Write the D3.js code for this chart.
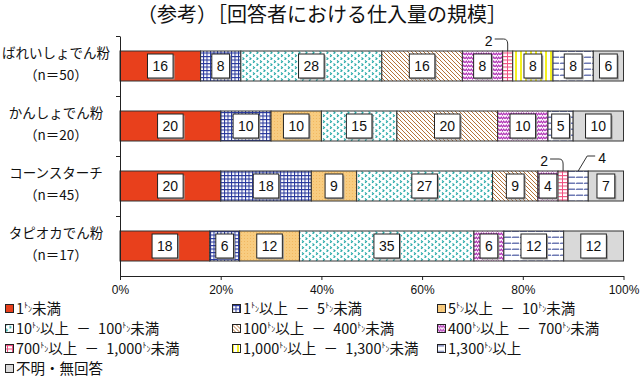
<!DOCTYPE html>
<html lang="ja">
<head>
<meta charset="UTF-8">
<script src="https://d3js.org/d3.v7.min.js"></script>
<style>
  body { margin: 0; background: #fff; }
  svg { display: block; font-family: "Noto Sans CJK JP", sans-serif; }
</style>
</head>
<body>
<div id="chart"></div>
<script>
// Data
const title = "（参考）［回答者における仕入量の規模］";
const rowLabels = ["ばれいしょでん粉", "かんしょでん粉", "コーンスターチ", "タピオカでん粉"];
const rowN = ["（n＝50）", "（n＝20）", "（n＝45）", "（n＝17）"];
const categories = [
  "1ﾄﾝ未満", "1ﾄﾝ以上\u2002－\u20025ﾄﾝ未満", "5ﾄﾝ以上\u2002－\u200210ﾄﾝ未満",
  "10ﾄﾝ以上\u2002－\u2002100ﾄﾝ未満", "100ﾄﾝ以上\u2002－\u2002400ﾄﾝ未満", "400ﾄﾝ以上\u2002－\u2002700ﾄﾝ未満",
  "700ﾄﾝ以上\u2002－\u20021,000ﾄﾝ未満", "1,000ﾄﾝ以上\u2002－\u20021,300ﾄﾝ未満", "1,300ﾄﾝ以上",
  "不明・無回答"
];
const lt1 = [16, 20, 20, 18];
const t1to5 = [8, 10, 18, 6];
const t5to10 = [0, 10, 9, 12];
const t10to100 = [28, 15, 27, 35];
const t100to400 = [16, 20, 9, 0];
const t400to700 = [8, 10, 4, 6];
const t700to1000 = [2, 0, 2, 0];
const t1000to1300 = [8, 0, 0, 0];
const ge1300 = [8, 5, 4, 12];
const unknown = [6, 10, 7, 12];
const xTicks = [0, 0.2, 0.4, 0.6, 0.8, 1];
// small segments labelled outside the bar: [row, category, side]
const callouts = [[0, 6, -1], [2, 6, -1], [2, 8, 1]];

const series = [lt1, t1to5, t5to10, t10to100, t100to400, t400to700, t700to1000, t1000to1300, ge1300, unknown];
const table = rowLabels.map((r, i) => {
  const o = { row: r };
  series.forEach((s, k) => o["c" + k] = s[i]);
  return o;
});
const keys = series.map((s, k) => "c" + k);

//Variable
const width = 640, height = 383;
const svg = d3.select("#chart").append("svg").attr("width", width).attr("height", height);
const defs = svg.append("defs");

const x = d3.scaleLinear().domain([0, 1]).range([120, 623.5]);
const y = d3.scaleBand().domain(rowLabels).range([36, 276]).paddingInner(0.5).paddingOuter(0.25);
const stacked = d3.stack().keys(keys).offset(d3.stackOffsetExpand)(table);

//Patterns
function pat(id, w, h, bg, draw) {
  const p = defs.append("pattern").attr("id", id).attr("patternUnits", "userSpaceOnUse")
    .attr("width", w).attr("height", h);
  p.append("rect").attr("width", w).attr("height", h).attr("fill", bg);
  draw(p);
}
pat("p1", 3.5, 3.5, "#fff", p => {
  p.append("path").attr("d", "M0,0.5H3.5M0.5,0V3.5").attr("stroke", "#24349a").attr("stroke-width", 1);
});
pat("p2", 3, 3, "#f8cc80", p => {
  p.append("rect").attr("x", 1).attr("y", 1).attr("width", 1).attr("height", 1).attr("fill", "#f2b860");
});
pat("p3", 7, 6, "#fff", p => {
  p.append("path").attr("d", "M1,0.5l1.5,1.2l-1.5,1.2M4.5,3.5l1.5,1.2l-1.5,1.2")
    .attr("stroke", "#22a8a6").attr("stroke-width", 1.1).attr("fill", "none");
});
pat("p4", 4, 4, "#fff", p => {
  p.append("path").attr("d", "M-1,-1L5,5M-1,3L1,5M3,-1L5,1").attr("stroke", "#b5733a").attr("stroke-width", 1);
});
pat("p5", 5, 4, "#fff", p => {
  p.append("path").attr("d", "M0,3L1.25,1L2.5,3L3.75,1L5,3").attr("stroke", "#b030b4")
    .attr("stroke-width", 1.1).attr("fill", "none");
});
pat("p6", 5, 3.5, "#fff", p => {
  p.append("path").attr("d", "M0,0.5H5M2.5,0V3.5").attr("stroke", "#f05080").attr("stroke-width", 1);
});
pat("p7", 5, 4, "#fff", p => {
  p.append("rect").attr("x", 0).attr("width", 2).attr("height", 4).attr("fill", "#f4f020");
});
pat("p8", 8, 6, "#fff", p => {
  p.append("path").attr("d", "M0,2.5l1,1.5l1,-1.5l1,1.5l1,-1.5l1,1.5l1,-1.5l1,1.5")
    .attr("stroke", "#44549e").attr("stroke-width", 0.9).attr("fill", "none");
});
const fills = ["#e8401c", "url(#p1)", "url(#p2)", "url(#p3)", "url(#p4)", "url(#p5)",
  "url(#p6)", "url(#p7)", "url(#p8)", "#d9d9d9"];

//Title
svg.append("text").attr("x", 322).attr("y", 22).attr("text-anchor", "middle")
  .attr("font-size", 20).attr("fill", "#111").text(title);

//Row labels
rowLabels.forEach((r, i) => {
  const cy = y(r) + y.bandwidth() / 2;
  svg.append("text").attr("x", 56).attr("y", cy - 8).attr("text-anchor", "middle")
    .attr("font-size", 13.5).attr("fill", "#111").text(r);
  svg.append("text").attr("x", 56).attr("y", cy + 14).attr("text-anchor", "middle")
    .attr("font-size", 13.5).attr("fill", "#111").text(rowN[i]);
});

//Bars
const layers = svg.selectAll("g.layer").data(stacked).enter().append("g")
  .attr("class", "layer").attr("fill", (d, i) => fills[i]);
layers.selectAll("rect").data(d => d).enter().append("rect")
  .filter(d => d[1] - d[0] > 0)
  .attr("x", d => x(d[0]))
  .attr("y", d => y(d.data.row))
  .attr("width", d => x(d[1]) - x(d[0]))
  .attr("height", y.bandwidth())
  .attr("stroke", "#333").attr("stroke-width", 1);

//Value boxes
stacked.forEach((layer, k) => {
  layer.forEach((d, r) => {
    const v = series[k][r];
    if (!v) return;
    const cx = (x(d[0]) + x(d[1])) / 2;
    const top = y(d.data.row);
    const cy = top + y.bandwidth() / 2;
    const c = callouts.find(c => c[0] === r && c[1] === k);
    if (c) {
      const side = c[2];
      const lx = side < 0 ? cx - 19 : cx + 24;
      const ly = side < 0 ? top - 10 : top - 13;
      svg.append("text").attr("x", lx).attr("y", ly + 5).attr("text-anchor", "middle")
        .attr("font-family", "Liberation Sans, Arial, sans-serif").attr("font-size", 14)
        .attr("fill", "#111").text(v);
      const path = side < 0
        ? `M${cx - 13},${ly - 2}H${cx - 4}Q${cx},${ly - 2} ${cx},${ly + 3}V${top}`
        : `M${cx},${top}L${cx + 9},${ly - 2}H${cx + 17}`;
      svg.append("path").attr("d", path).attr("fill", "none").attr("stroke", "#333").attr("stroke-width", 1);
      return;
    }
    const g = svg.append("g");
    const t = g.append("text").attr("x", cx).attr("y", cy + 5).attr("text-anchor", "middle")
      .attr("font-family", "Liberation Sans, Arial, sans-serif").attr("font-size", 14)
      .attr("fill", "#111").text(v);
    const tw = t.node().getComputedTextLength() + 10;
    g.insert("rect", "text").attr("x", cx - tw / 2 + 1.5).attr("y", cy - 12 + 1.5)
      .attr("width", tw).attr("height", 24).attr("fill", "#999");
    g.insert("rect", "text").attr("x", cx - tw / 2).attr("y", cy - 12)
      .attr("width", tw).attr("height", 24).attr("fill", "#fff").attr("stroke", "#222").attr("stroke-width", 1);
  });
});

//-GY
const yb = d3.scaleLinear().domain([0, 4]).range([36, 276]);
svg.append("g").attr("transform", "translate(120,0)")
  .call(d3.axisLeft(yb).tickValues([0, 1, 2, 3]).tickFormat("").tickSize(4).tickSizeOuter(0))
  .call(g => g.selectAll("line,path").attr("stroke", "#222"));

//-GX
svg.append("g").attr("transform", "translate(0,276)")
  .call(d3.axisBottom(x).tickValues(xTicks).tickFormat(d3.format(".0%")).tickSize(4).tickPadding(5).tickSizeOuter(0))
  .call(g => g.selectAll("line,path").attr("stroke", "#222"))
  .call(g => g.selectAll("text").attr("font-family", "Liberation Sans, Arial, sans-serif")
    .attr("font-size", 12).attr("fill", "#111"));

//Legend
const legend = svg.selectAll("g.leg").data(categories).enter().append("g").attr("class", "leg")
  .attr("transform", (d, i) => `translate(${[5, 232, 437][i % 3]},${308.5 + Math.floor(i / 3) * 20})`);
legend.append("rect").attr("x", 0.5).attr("y", -4).attr("width", 8).attr("height", 8)
  .attr("fill", (d, i) => fills[i]).attr("stroke", "#222").attr("stroke-width", 1);
legend.each(function (d) {
  const t = d3.select(this).append("text").attr("x", 11).attr("y", 5).attr("font-size", 14.5).attr("fill", "#111");
  d.split("ﾄﾝ").forEach((part, j) => {
    if (j > 0) {
      t.append("tspan").attr("font-size", 8).attr("dy", -6).text("ﾄ");
      t.append("tspan").attr("font-size", 8).attr("dy", 4).text("ﾝ");
      t.append("tspan").attr("dy", 2).text(part);
    } else {
      t.append("tspan").text(part);
    }
  });
});
</script>
</body>
</html>
